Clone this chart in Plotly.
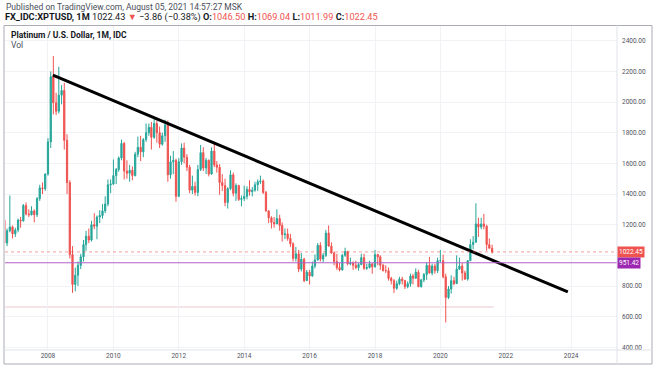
import pandas as pd
import plotly.graph_objects as go

# ---------------- data (monthly, Sep 2006 .. Aug 2021) ----------------
start_month = "2006-09-01"

opens = [
    1230, 1080, 1160, 1185,
    1140, 1165, 1230, 1225, 1325, 1270, 1265, 1290, 1265, 1370, 1440, 1435,
    1530, 1740, 2165, 1995, 1940, 2045, 2075, 1750, 1475, 1005, 810, 870,
    935, 990, 1070, 1125, 1100, 1200, 1190, 1250, 1260, 1290, 1335, 1460,
    1465, 1520, 1560, 1635, 1730, 1550, 1535, 1555, 1520, 1660, 1705, 1675,
    1755, 1800, 1835, 1770, 1860, 1800, 1725, 1780, 1850, 1525, 1610, 1620,
    1385, 1610, 1700, 1640, 1575, 1425, 1450, 1410, 1560, 1670, 1570, 1620,
    1530, 1680, 1590, 1575, 1475, 1455, 1345, 1435, 1525, 1405, 1455, 1365,
    1370, 1385, 1430, 1415, 1425, 1460, 1480, 1485, 1410, 1290, 1245, 1215,
    1205, 1240, 1195, 1135, 1140, 1110, 1075, 980, 1010, 910, 975, 835,
    890, 865, 930, 970, 1065, 975, 1000, 1145, 1060, 1015, 960, 920,
    905, 1000, 1025, 945, 950, 935, 920, 940, 985, 915, 920, 945,
    925, 1005, 990, 935, 900, 900, 850, 835, 785, 815, 845, 835,
    795, 815, 865, 850, 890, 795, 840, 875, 935, 885, 930, 900,
    965, 965, 860, 725, 780, 835, 815, 910, 930, 885, 845, 965,
    1070, 1085, 1205, 1185, 1205, 1190, 1070, 1046.50,
]
highs = [
    1245, 1175, 1390, 1195,
    1180, 1240, 1250, 1335, 1345, 1300, 1320, 1300, 1380, 1460, 1475, 1535,
    1765, 2200, 2300, 2060, 2230, 2110, 2125, 1790, 1490, 1060, 920, 960,
    1010, 1100, 1160, 1175, 1225, 1275, 1260, 1295, 1335, 1385, 1495, 1495,
    1625, 1570, 1645, 1755, 1740, 1620, 1590, 1580, 1675, 1775, 1780, 1765,
    1860, 1860, 1870, 1890, 1880, 1840, 1800, 1885, 1880, 1650, 1680, 1630,
    1635, 1730, 1735, 1660, 1590, 1520, 1480, 1590, 1720, 1705, 1635, 1625,
    1705, 1740, 1615, 1595, 1530, 1500, 1445, 1555, 1540, 1470, 1460, 1390,
    1455, 1450, 1490, 1445, 1480, 1495, 1520, 1495, 1420, 1295, 1255, 1250,
    1300, 1265, 1215, 1175, 1175, 1140, 1085, 1055, 1035, 1015, 985, 905,
    905, 960, 1005, 1080, 1085, 1015, 1165, 1195, 1085, 1025, 1010, 950,
    1010, 1050, 1030, 985, 960, 965, 950, 1010, 1010, 945, 965, 945,
    1035, 1010, 1000, 945, 935, 920, 860, 845, 835, 860, 860, 840,
    830, 880, 880, 915, 905, 845, 885, 955, 990, 945, 945, 985,
    1035, 1005, 880, 800, 870, 860, 1000, 985, 950, 900, 970, 1105,
    1125, 1340, 1245, 1245, 1270, 1200, 1110, 1069.04,
]
lows = [
    1070, 1060, 1150, 1110,
    1120, 1150, 1180, 1220, 1260, 1250, 1260, 1215, 1250, 1355, 1400, 1420,
    1520, 1700, 1920, 1915, 1925, 1985, 1690, 1400, 980, 755, 765, 800,
    910, 960, 1030, 1080, 1090, 1170, 1105, 1210, 1240, 1275, 1320, 1405,
    1460, 1465, 1545, 1620, 1495, 1500, 1480, 1490, 1515, 1640, 1615, 1640,
    1740, 1780, 1690, 1760, 1735, 1700, 1715, 1740, 1480, 1500, 1530, 1350,
    1380, 1590, 1600, 1550, 1405, 1400, 1390, 1385, 1550, 1550, 1530, 1515,
    1525, 1575, 1540, 1395, 1420, 1320, 1305, 1425, 1385, 1355, 1355, 1320,
    1355, 1365, 1390, 1385, 1415, 1420, 1465, 1400, 1285, 1210, 1175, 1180,
    1205, 1160, 1090, 1105, 1095, 1055, 960, 960, 890, 895, 825, 835,
    810, 860, 915, 965, 960, 955, 990, 1060, 1010, 935, 905, 895,
    900, 990, 935, 935, 905, 910, 900, 935, 905, 905, 915, 880,
    920, 935, 905, 895, 885, 835, 810, 755, 775, 805, 810, 780,
    785, 795, 810, 850, 795, 790, 825, 840, 880, 870, 880, 885,
    955, 850, 562, 715, 750, 805, 815, 905, 835, 840, 835, 965,
    1040, 1085, 1120, 1170, 1170, 1030, 1045, 1011.99,
]
closes = [
    1080, 1160, 1185, 1140,
    1165, 1230, 1225, 1325, 1270, 1265, 1290, 1265, 1370, 1440, 1435, 1530,
    1740, 2165, 1995, 1940, 2045, 2075, 1750, 1475, 1005, 810, 870, 935,
    990, 1070, 1125, 1100, 1200, 1190, 1250, 1260, 1290, 1335, 1460, 1465,
    1520, 1560, 1635, 1730, 1550, 1535, 1555, 1520, 1660, 1705, 1675, 1755,
    1800, 1835, 1770, 1860, 1800, 1725, 1780, 1850, 1525, 1610, 1620, 1385,
    1610, 1700, 1640, 1575, 1425, 1450, 1410, 1560, 1670, 1570, 1620, 1530,
    1680, 1590, 1575, 1475, 1455, 1345, 1435, 1525, 1405, 1455, 1365, 1370,
    1385, 1430, 1415, 1425, 1460, 1480, 1485, 1410, 1290, 1245, 1215, 1205,
    1240, 1195, 1135, 1140, 1110, 1075, 980, 1010, 910, 975, 835, 890,
    865, 930, 970, 1065, 975, 1000, 1145, 1060, 1015, 960, 920, 905,
    1000, 1025, 945, 950, 935, 920, 940, 985, 915, 920, 945, 925,
    1005, 990, 935, 900, 900, 850, 835, 785, 815, 845, 835, 795,
    815, 865, 850, 890, 795, 840, 875, 935, 885, 930, 900, 965,
    965, 860, 725, 780, 835, 815, 910, 930, 885, 845, 965, 1070,
    1085, 1205, 1185, 1205, 1190, 1070, 1046.50, 1022.45,
]

# trend line drawn on the chart (date, price)
trend_dates = ["2008-02-25", "2023-11-25"]
trend_prices = [2176, 761]

# horizontal levels
support_level = 951.42
last_price = 1022.45
low_ray_level = 663
low_ray_end = "2021-08-20"

# axis ticks
price_ticks = [400, 600, 800, 1000, 1200, 1400, 1600, 1800, 2000, 2200, 2400]
price_tick_text = ["400.00", "600.00", "800.00", "", "1200.00", "1400.00",
                   "1600.00", "1800.00", "2000.00", "2200.00", "2400.00"]
year_ticks = ["2008-01-01", "2010-01-01", "2012-01-01", "2014-01-01", "2016-01-01",
              "2018-01-01", "2020-01-01", "2022-01-01", "2024-01-01"]
year_text = ["2008", "2010", "2012", "2014", "2016", "2018", "2020", "2022", "2024"]

# header texts
published = "Published on TradingView.com, August 05, 2021 14:57:27 MSK"
symbol = "FX_IDC:XPTUSD, 1M"
last_quote = "1022.43"
change = "−3.86 (−0.38%)"
o_val, h_val, l_val, c_val = "1046.50", "1069.04", "1011.99", "1022.45"
pane_title = "Platinum / U.S. Dollar, 1M, IDC"

# ---------------- figure ----------------
W, H = 654, 366
L, R, T, B = 5, 37, 26, 16
PW, PH = W - L - R, H - T - B

def px(x):
    return (x - L) / PW

def py(y):
    return (H - B - y) / PH

UP, DOWN = "#26a69a", "#ef5350"
months = pd.date_range(start_month, periods=len(closes), freq="MS")

fig = go.Figure()
fig.add_trace(go.Candlestick(
    x=months, open=opens, high=highs, low=lows, close=closes,
    increasing=dict(line=dict(color=UP, width=1), fillcolor=UP),
    decreasing=dict(line=dict(color=DOWN, width=1), fillcolor=DOWN),
    whiskerwidth=0, showlegend=False, hoverinfo="skip",
))
fig.add_trace(go.Scatter(
    x=trend_dates, y=trend_prices, mode="lines",
    line=dict(color="#000000", width=3), showlegend=False, hoverinfo="skip",
))

shapes = [
    dict(type="line", xref="x", yref="y", x0="2006-08-01", x1=low_ray_end,
         y0=low_ray_level, y1=low_ray_level, line=dict(color="#ecc9cd", width=1), layer="below"),
    dict(type="line", xref="paper", yref="y", x0=0, x1=1, y0=last_price, y1=last_price,
         line=dict(color="rgba(239,83,80,0.55)", width=1, dash="dot")),
    dict(type="line", xref="paper", yref="y", x0=0, x1=1, y0=support_level, y1=support_level,
         line=dict(color="#b05fc8", width=1)),
    dict(type="rect", xref="paper", yref="paper", x0=px(4), x1=px(652), y0=py(364), y1=py(25.5),
         line=dict(color="#a9acb5", width=1)),
    dict(type="line", xref="paper", yref="paper", x0=1, x1=1, y0=py(364), y1=py(25.5),
         line=dict(color="#e0e3eb", width=1)),
    dict(type="line", xref="paper", yref="paper", x0=px(4), x1=px(652), y0=0, y1=0,
         line=dict(color="#e0e3eb", width=1)),
]

FONT = "Roboto, Arial, sans-serif"
TXT = "#131722"
red = "#ef5350"
line2 = (f"<b>{symbol}</b> {last_quote} <span style='color:{red}'>▼</span> {change} "
         f"<b>O:</b><span style='color:{red}'>{o_val}</span> "
         f"<b>H:</b><span style='color:{red}'>{h_val}</span> "
         f"<b>L:</b><span style='color:{red}'>{l_val}</span> "
         f"<b>C:</b><span style='color:{red}'>{c_val}</span>")

annotations = [
    dict(text=published, x=px(4), y=py(7), xref="paper", yref="paper",
         xanchor="left", yanchor="middle", showarrow=False,
         font=dict(family=FONT, size=8.5, color="#4a4e59")),
    dict(text=line2, x=px(3), y=py(17), xref="paper", yref="paper",
         xanchor="left", yanchor="middle", showarrow=False,
         font=dict(family=FONT, size=9.2, color=TXT)),
    dict(text=f"<b>{pane_title}</b>", x=px(9), y=py(35), xref="paper", yref="paper",
         xanchor="left", yanchor="middle", showarrow=False,
         font=dict(family=FONT, size=8.5, color=TXT)),
    dict(text="Vol", x=px(9), y=py(45), xref="paper", yref="paper",
         xanchor="left", yanchor="middle", showarrow=False,
         font=dict(family=FONT, size=8.5, color="#4a4e59")),
    dict(text=f"{last_price:.2f}", x=1, y=last_price, xref="paper", yref="y",
         xanchor="left", yanchor="middle", showarrow=False, bgcolor=red, borderpad=1,
         font=dict(family=FONT, size=6.5, color="#ffffff")),
    dict(text=f"{support_level:.2f}", x=1, y=support_level, xref="paper", yref="y",
         xanchor="left", yanchor="middle", showarrow=False, bgcolor="#9c27b0", borderpad=1,
         font=dict(family=FONT, size=6.5, color="#ffffff")),
]

fig.update_layout(
    width=W, height=H,
    margin=dict(l=L, r=R, t=T, b=B, pad=0),
    paper_bgcolor="#ffffff", plot_bgcolor="#ffffff",
    shapes=shapes, annotations=annotations,
    xaxis=dict(
        type="date", range=["2006-09-08", "2025-05-27"],
        tickvals=year_ticks, ticktext=year_text,
        showgrid=True, gridcolor="#f0f2f6", gridwidth=1,
        zeroline=False, showline=False, ticks="",
        tickfont=dict(family=FONT, size=6.5, color="#50535e"),
        rangeslider=dict(visible=False), fixedrange=True,
    ),
    yaxis=dict(
        side="right", range=[382.5, 2496],
        tickvals=price_ticks, ticktext=price_tick_text,
        showgrid=True, gridcolor="#f0f2f6", gridwidth=1,
        zeroline=False, showline=False, ticks="",
        ticklabelstandoff=4,
        tickfont=dict(family=FONT, size=6.5, color="#50535e"),
        fixedrange=True,
    ),
)

fig.write_html("out.html", config={"displayModeBar": False},
               post_script="document.body.style.margin='0';")
